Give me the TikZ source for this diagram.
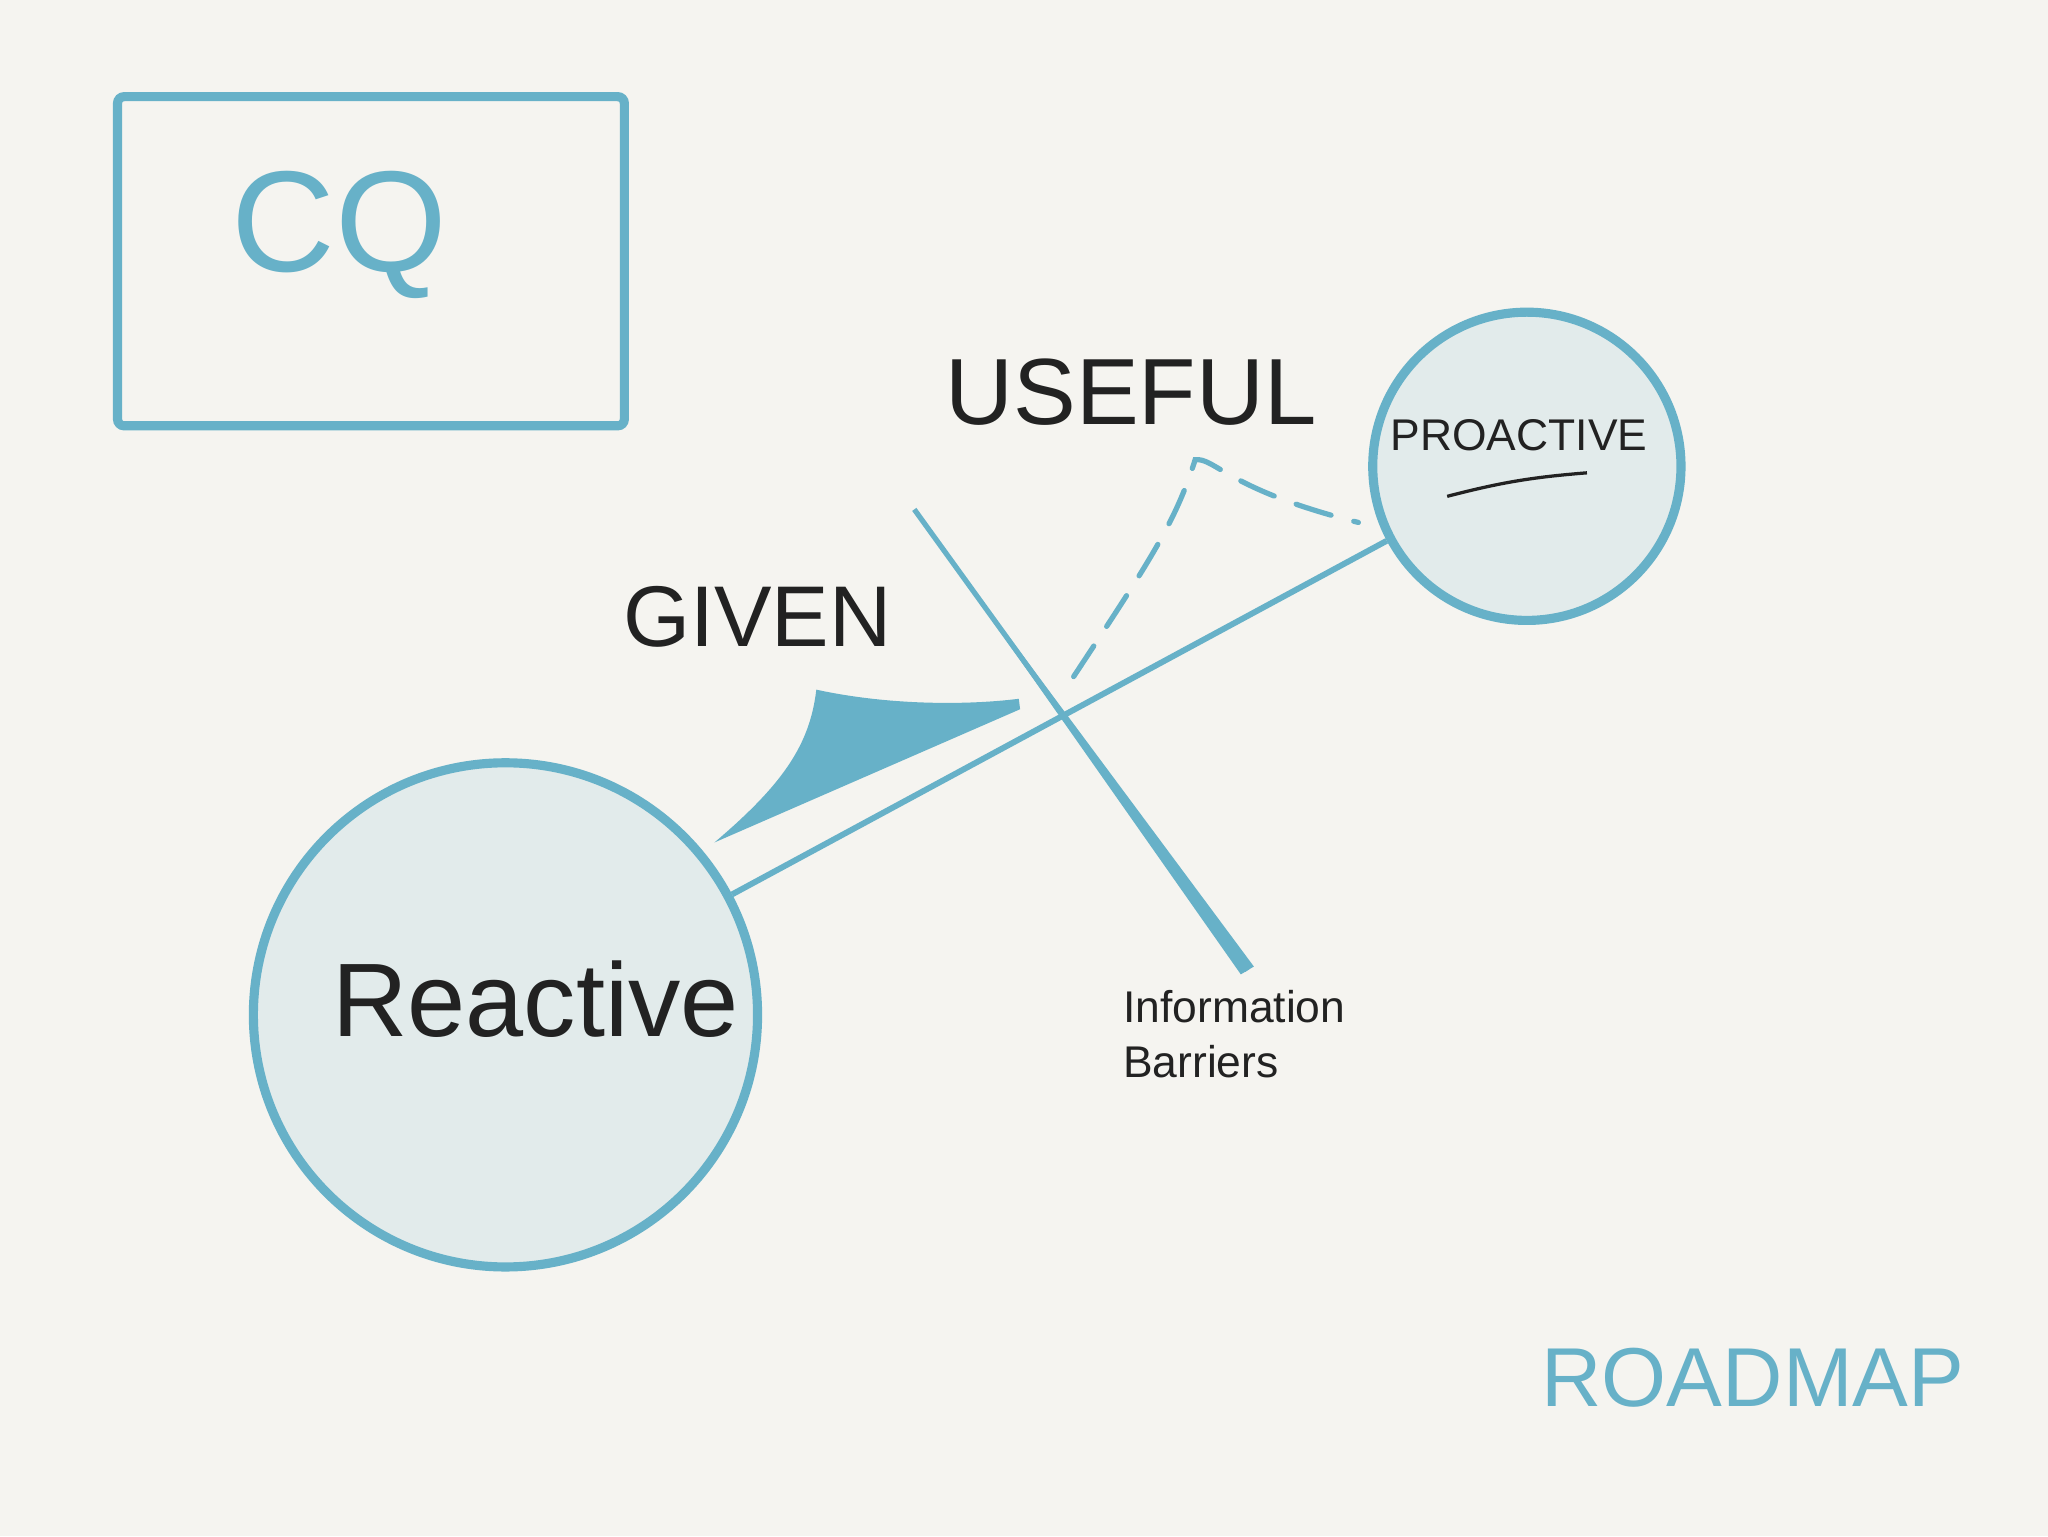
\documentclass[tikz,border=0pt]{standalone}
\usepackage{fontspec}
\setmainfont{Liberation Sans}
\definecolor{bg}{HTML}{F5F4F0}
\definecolor{bl}{HTML}{67B1C8}
\definecolor{cf}{HTML}{E2EBEB}
\definecolor{ink}{HTML}{222222}
\begin{document}
\begin{tikzpicture}[x=1pt,y=-1pt,
  circ/.style={circle,draw=bl,fill=cf,line width=7pt},
  lbl/.style={text=ink,inner sep=0pt},
  bline/.style={draw=bl,line width=4.5pt}]
\fill[bg] (0,0) rectangle (1568,1176);
\useasboundingbox (0,0) rectangle (1568,1176);
\draw[bl,line width=7pt,rounded corners=5pt] (90,74) rectangle (478,326);
\node[text=bl,inner sep=0pt,font=\fontsize{110}{110}\selectfont] (cq) at (260,180) {CQ};
\node[circ,minimum size=236pt] (pro) at (1169,357) {};
\node[circ,minimum size=386pt] (rea) at (387,777) {};
\node[lbl,font=\fontsize{34}{34}\selectfont] (protxt) at (1163,333) {PROACTIVE};
\draw[ink,line width=2.5pt] (1108,380) to[bend left=5] (1215,362);
\node[lbl,font=\fontsize{80}{80}\selectfont] (reatxt) at (410,765) {Reactive};
\node[lbl,font=\fontsize{72}{72}\selectfont] (useful) at (866,300) {USEFUL};
\node[lbl,font=\fontsize{66}{66}\selectfont] (given) at (580,472) {GIVEN};
\node[lbl,font=\fontsize{34}{42}\selectfont,align=left] (info) at (945,792) {Information\\Barriers};
\node[text=bl,inner sep=0pt,font=\fontsize{64}{64}\selectfont] (road) at (1342,1055) {ROADMAP};
\coordinate (b1) at (700,390);
\coordinate (b2) at (955,743);
\draw[bline] (rea.28) -- (pro.208);
\fill[bl] (b1) -- (950,746) -- (960,740) -- cycle;
\draw[bl,line width=4pt] (b1) -- (b2);
\coordinate (d1) at (822,518);
\coordinate (d2) at (1040,400);
\draw[bl,line width=4pt,dash pattern=on 28pt off 18pt,line cap=round] (d1) .. controls (880,430) and (900,400) .. (915,352) .. controls (930,350) and (940,375) .. (d2);
\fill[bl] (547,645) .. controls (600,600) and (620,570) .. (625,528) .. controls (680,540) and (740,540) .. (780,535) -- (781,543) -- cycle;
\end{tikzpicture}
\end{document}
